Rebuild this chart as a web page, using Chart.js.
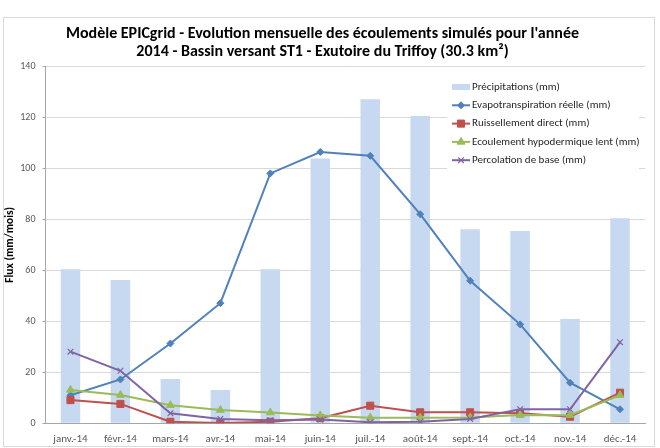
<!DOCTYPE html>
<html>
<head>
<meta charset="utf-8">
<script src="https://cdn.jsdelivr.net/npm/chart.js@4"></script>
<style>
  html,body{margin:0;padding:0;background:#fff;}
  #wrap{position:relative;width:660px;height:448px;}
</style>
</head>
<body>
<div id="wrap"><canvas id="c" width="660" height="448"></canvas></div>
<script>
(function () {
  'use strict';

  var months = ['janv.-14','févr.-14','mars-14','avr.-14','mai-14','juin-14','juil.-14','août-14','sept.-14','oct.-14','nov.-14','déc.-14'];
  var precip = [60.4, 56.2, 17.4, 13.1, 60.4, 103.8, 127.1, 120.5, 76.1, 75.4, 40.9, 80.4];
  var etr    = [11.0, 17.2, 31.3, 47.1, 98.0, 106.4, 104.9, 82.0, 55.9, 38.8, 15.9, 5.5];
  var ruiss  = [9.1, 7.6, 0.6, 0.1, 0.6, 2.0, 6.9, 4.3, 4.3, 3.9, 2.6, 12.0];
  var hypo   = [13.1, 11.1, 7.1, 5.2, 4.2, 3.1, 2.2, 2.2, 2.3, 3.3, 3.2, 11.0];
  var perco  = [28.1, 20.6, 3.9, 1.7, 1.2, 1.5, 0.4, 0.6, 1.7, 5.5, 5.5, 31.8];
  var yTicks = [0, 20, 40, 60, 80, 100, 120, 140];

  var FONT = 'Carlito, Calibri, Lato, "Open Sans", sans-serif';

  function line(label, data, color, style, r, order) {
    return {
      type: 'line', label: label, data: data, order: order,
      borderColor: color, backgroundColor: color, borderWidth: 2,
      pointStyle: style, pointRadius: r, pointHoverRadius: r,
      pointBorderColor: color, pointBackgroundColor: color,
      pointBorderWidth: style === 'crossRot' ? 1.2 : 1,
      tension: 0
    };
  }

  /* outer frame, like the spreadsheet chart border */
  var frame = {
    id: 'frame',
    beforeDraw: function (chart) {
      var ctx = chart.ctx;
      ctx.save();
      ctx.fillStyle = '#fff';
      ctx.fillRect(0, 0, chart.width, chart.height);
      ctx.strokeStyle = '#D9D9D9'; ctx.lineWidth = 1;
      ctx.strokeRect(3.5, 17.5, 651, 429);
      ctx.restore();
    }
  };

  /* legend drawn inside the plot, top right */
  var innerLegend = {
    id: 'innerLegend',
    afterDraw: function (chart) {
      var ctx = chart.ctx, ds = chart.data.datasets;
      var x0 = 452, y0 = 87, step = 18.3;
      ctx.save();
      ctx.fillStyle = '#fff';
      ctx.fillRect(447, 77, 192, 94);
      ctx.font = '11px ' + FONT;
      ctx.textBaseline = 'middle';
      ds.forEach(function (d, i) {
        var y = y0 + i * step;
        if (d.type === 'bar' || !d.type) {
          ctx.fillStyle = d.backgroundColor;
          ctx.fillRect(x0, y - 3, 18, 6);
        } else {
          ctx.strokeStyle = d.borderColor; ctx.lineWidth = 2;
          ctx.beginPath(); ctx.moveTo(x0, y); ctx.lineTo(x0 + 18, y); ctx.stroke();
          ctx.fillStyle = d.pointBackgroundColor; ctx.strokeStyle = d.pointBorderColor;
          ctx.lineWidth = d.pointBorderWidth;
          Chart.helpers.drawPoint(ctx, { pointStyle: d.pointStyle, radius: d.pointRadius, borderWidth: d.pointBorderWidth, rotation: 0 }, x0 + 9, y);
        }
        ctx.fillStyle = '#262626';
        ctx.fillText(d.label, x0 + 20, y);
      });
      ctx.restore();
    }
  };

  new Chart(document.getElementById('c'), {
    data: {
      labels: months,
      datasets: [
        { type: 'bar', label: 'Précipitations (mm)', data: precip, order: 10,
          backgroundColor: '#C6D9F1', barPercentage: 0.39, categoryPercentage: 1 },
        line('Evapotranspiration réelle (mm)', etr, '#4F81BD', 'rectRot', 3.5, 5),
        line('Ruissellement direct (mm)', ruiss, '#C0504D', 'rect', 5, 4),
        line('Ecoulement hypodermique lent (mm)', hypo, '#9BBB59', 'triangle', 4.5, 3),
        line('Percolation de base (mm)', perco, '#8064A2', 'crossRot', 4, 2)
      ]
    },
    options: {
      responsive: false, animation: false, devicePixelRatio: 1,
      layout: { padding: { left: 0, right: 15, top: 0, bottom: 0 } },
      plugins: {
        legend: { display: false },
        tooltip: { enabled: false },
        title: {
          display: true,
          text: ["Modèle EPICgrid - Evolution mensuelle des écoulements simulés pour l'année",
                 '2014 - Bassin versant ST1 - Exutoire du Triffoy (30.3 km²)'],
          color: '#000', font: { family: FONT, size: 16, weight: 'bold', lineHeight: '17.7px' },
          padding: { top: 25, bottom: 5.9 }
        }
      },
      scales: {
        x: {
          grid: { display: false, drawTicks: false },
          border: { display: true, color: '#A6A6A6' },
          ticks: { color: '#595959', font: { family: FONT, size: 11 }, padding: 9, maxRotation: 0, autoSkip: false },
          afterFit: function (s) { s.height = 24.7; }
        },
        y: {
          min: 0, max: 140,
          afterBuildTicks: function (s) { s.ticks = yTicks.map(function (v) { return { value: v }; }); },
          grid: { color: '#D9D9D9', tickLength: 3, tickColor: '#A6A6A6' },
          border: { display: true, color: '#A6A6A6' },
          ticks: { color: '#595959', font: { family: FONT, size: 10 }, padding: 7 },
          title: { display: true, text: 'Flux (mm/mois)', color: '#000',
                   font: { family: FONT, size: 11.5, weight: 'bold' }, padding: { top: 3, bottom: 0 } },
          afterFit: function (s) { s.width = 45.5; }
        }
      }
    },
    plugins: [frame, innerLegend]
  });
})();
</script>
</body>
</html>
